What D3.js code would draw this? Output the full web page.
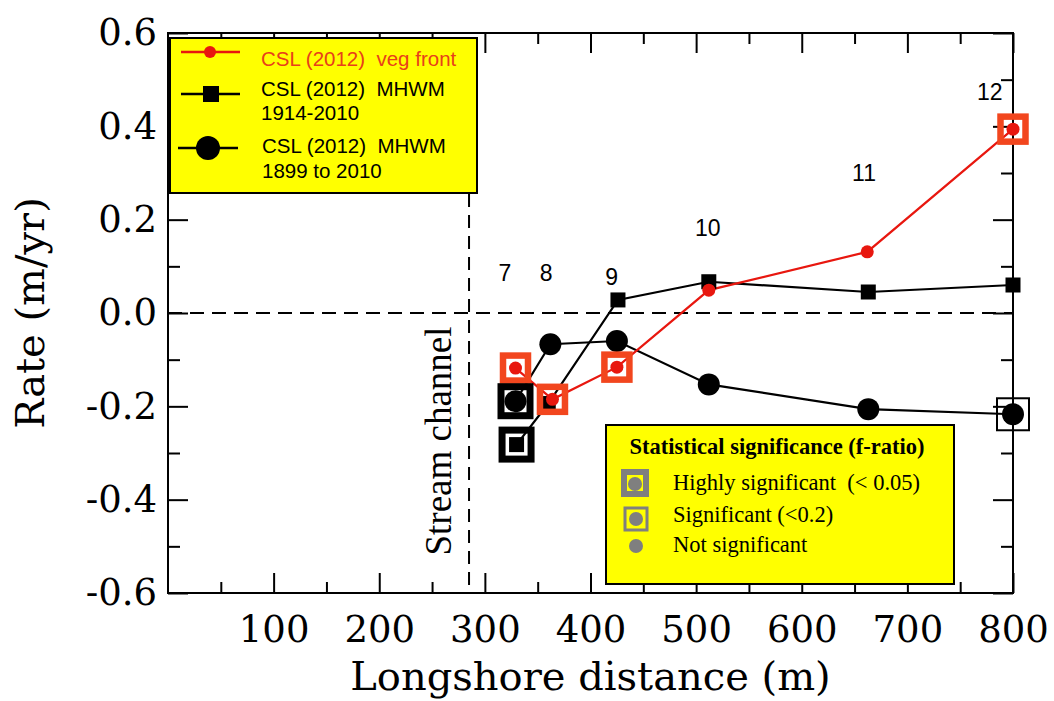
<!DOCTYPE html>
<html>
<head>
<meta charset="utf-8">
<script src="https://cdn.jsdelivr.net/npm/d3@7"></script>
<style>
  html, body { margin: 0; padding: 0; background: #fff; }
  svg { display: block; }
</style>
</head>
<body>
<svg id="chart" width="1054" height="701"></svg>
<script>
// ---------------- DATA ----------------
const vegX   = [329, 364, 425, 512, 662, 800];
const vegY   = [-0.118, -0.185, -0.116, 0.049, 0.131, 0.394];
const mhwmAX = [330, 360, 426, 512, 663, 800];           // 1914-2010 (squares)
const mhwmAY = [-0.282, -0.194, 0.028, 0.067, 0.045, 0.060];
const mhwmBX = [329, 362, 425, 512, 663, 800];           // 1899-2010 (circles)
const mhwmBY = [-0.189, -0.067, -0.060, -0.153, -0.206, -0.217];

// significance: series, point index, level ("high" | "sig")
const sigSeries = ["veg", "veg", "veg", "veg", "mhwmA", "mhwmB", "mhwmB"];
const sigIndex  = [0, 1, 2, 5, 0, 0, 5];
const sigLevel  = ["high", "high", "high", "high", "high", "high", "sig"];

// transect number labels (annotation positions in data units)
const transectIds = ["7", "8", "9", "10", "11", "12"];
const transectLX  = [319, 358, 420, 511, 659, 778];
const transectLY  = [0.086, 0.086, 0.077, 0.182, 0.30, 0.474];

const streamX = 285;

const xMajorTicks = [100, 200, 300, 400, 500, 600, 700, 800];
const xMinorTicks = [50, 150, 250, 350, 450, 550, 650, 750];
const yMajorTicks = [0.6, 0.4, 0.2, 0.0, -0.2, -0.4, -0.6];
const yTickLabels = ["0.6", "0.4", "0.2", "0.0", "-0.2", "-0.4", "-0.6"];
const yMinorTicks = [0.5, 0.3, 0.1, -0.1, -0.3, -0.5];

// ---------------- LAYOUT ----------------
const svg = d3.select("#chart");
const L = 168, R = 1013, T = 33, B = 593;
const x = d3.scaleLinear().domain([0, 800]).range([L, R]);
const y = d3.scaleLinear().domain([-0.6, 0.6]).range([B, T]);

const RED = "#e8170f";
const SIGRED = "#f2461e";
const serif = "'DejaVu Serif', serif";

// ---------------- AXES ----------------
function styleAxis(g) {
  g.select(".domain").remove();
  g.selectAll(".tick line").attr("stroke", "#000").attr("stroke-width", 2);
}
// bottom
svg.append("g").attr("transform", `translate(0,${B})`)
  .call(d3.axisBottom(x).tickValues(xMajorTicks).tickSizeInner(-20).tickSizeOuter(0).tickPadding(20).tickFormat(d3.format("d")))
  .call(styleAxis)
  .call(g => g.selectAll("text").attr("font-family", serif).attr("font-size", 37).attr("fill", "#000").attr("dy", "0.78em"));
svg.append("g").attr("transform", `translate(0,${B})`)
  .call(d3.axisBottom(x).tickValues(xMinorTicks).tickSizeInner(-11).tickSizeOuter(0).tickFormat(""))
  .call(styleAxis);
// top
svg.append("g").attr("transform", `translate(0,${T})`)
  .call(d3.axisTop(x).tickValues(xMajorTicks).tickSizeInner(-20).tickSizeOuter(0).tickFormat(""))
  .call(styleAxis);
svg.append("g").attr("transform", `translate(0,${T})`)
  .call(d3.axisTop(x).tickValues(xMinorTicks).tickSizeInner(-11).tickSizeOuter(0).tickFormat(""))
  .call(styleAxis);
// left
svg.append("g").attr("transform", `translate(${L},0)`)
  .call(d3.axisLeft(y).tickValues(yMajorTicks).tickSizeInner(-20).tickSizeOuter(0).tickPadding(11)
        .tickFormat((d, i) => yTickLabels[i]))
  .call(styleAxis)
  .call(g => g.selectAll("text").attr("font-family", serif).attr("font-size", 37).attr("fill", "#000"));
svg.append("g").attr("transform", `translate(${L},0)`)
  .call(d3.axisLeft(y).tickValues(yMinorTicks).tickSizeInner(-12).tickSizeOuter(0).tickFormat(""))
  .call(styleAxis);
// right
svg.append("g").attr("transform", `translate(${R},0)`)
  .call(d3.axisRight(y).tickValues(yMajorTicks).tickSizeInner(-20).tickSizeOuter(0).tickFormat(""))
  .call(styleAxis);
svg.append("g").attr("transform", `translate(${R},0)`)
  .call(d3.axisRight(y).tickValues(yMinorTicks).tickSizeInner(-12).tickSizeOuter(0).tickFormat(""))
  .call(styleAxis);

// frame
svg.append("rect").attr("x", L).attr("y", T).attr("width", R - L).attr("height", B - T)
  .attr("fill", "none").attr("stroke", "#000").attr("stroke-width", 2);

// axis titles
svg.append("text").attr("x", (L + R) / 2).attr("y", 690).attr("text-anchor", "middle")
  .attr("font-family", serif).attr("font-size", 40).attr("fill", "#000")
  .text("Longshore distance (m)");
svg.append("text").attr("transform", `translate(44,${(T + B) / 2}) rotate(-90)`)
  .attr("text-anchor", "middle")
  .attr("font-family", serif).attr("font-size", 40).attr("fill", "#000")
  .text("Rate (m/yr)");

// zero dashed line
svg.append("line").attr("x1", L).attr("x2", R).attr("y1", y(0)).attr("y2", y(0))
  .attr("stroke", "#000").attr("stroke-width", 2).attr("stroke-dasharray", "14,8");

// ---------------- LEGEND 1 (drawn before stream line so line starts below it) ----------------
const lg1 = svg.append("g");
lg1.append("rect").attr("x", 170).attr("y", 38).attr("width", 307).attr("height", 155)
  .attr("fill", "#ffff00").attr("stroke", "#000").attr("stroke-width", 2);

// stream channel vertical dashed line
svg.append("line").attr("x1", x(streamX)).attr("x2", x(streamX)).attr("y1", 194).attr("y2", B)
  .attr("stroke", "#000").attr("stroke-width", 2).attr("stroke-dasharray", "13,8");
svg.append("text").attr("transform", `translate(${x(streamX) - 18},441) rotate(-90)`)
  .attr("text-anchor", "middle").attr("font-family", "'Liberation Serif', serif")
  .attr("font-size", 37).attr("fill", "#000").text("Stream channel");

// legend 1 items
const lgFont = "'Liberation Sans', Arial, sans-serif";
const lgSize = 20.5;
lg1.append("line").attr("x1", 181).attr("x2", 240).attr("y1", 52).attr("y2", 52).attr("stroke", RED).attr("stroke-width", 2.5);
lg1.append("circle").attr("cx", 210).attr("cy", 52).attr("r", 6).attr("fill", RED);
lg1.append("text").attr("x", 261).attr("y", 66).attr("font-family", lgFont).attr("font-size", lgSize)
  .attr("fill", "#e8401a").attr("xml:space", "preserve").text("CSL (2012)  veg front");

lg1.append("line").attr("x1", 181).attr("x2", 240).attr("y1", 94).attr("y2", 94).attr("stroke", "#000").attr("stroke-width", 2.5);
lg1.append("rect").attr("x", 203).attr("y", 86).attr("width", 16).attr("height", 16).attr("fill", "#000");
lg1.append("text").attr("x", 261).attr("y", 96).attr("font-family", lgFont).attr("font-size", lgSize)
  .attr("fill", "#000").attr("xml:space", "preserve").text("CSL (2012)  MHWM");
lg1.append("text").attr("x", 261).attr("y", 120).attr("font-family", lgFont).attr("font-size", lgSize)
  .attr("fill", "#000").text("1914-2010");

lg1.append("line").attr("x1", 178).attr("x2", 238).attr("y1", 148).attr("y2", 148).attr("stroke", "#000").attr("stroke-width", 2.5);
lg1.append("circle").attr("cx", 208).attr("cy", 148).attr("r", 12).attr("fill", "#000");
lg1.append("text").attr("x", 262).attr("y", 153).attr("font-family", lgFont).attr("font-size", lgSize)
  .attr("fill", "#000").attr("xml:space", "preserve").text("CSL (2012)  MHWM");
lg1.append("text").attr("x", 262).attr("y", 178).attr("font-family", lgFont).attr("font-size", lgSize)
  .attr("fill", "#000").text("1899 to 2010");

// ---------------- DATA MARKS ----------------
const series = {
  veg:   vegX.map((d, i) => [d, vegY[i]]),
  mhwmA: mhwmAX.map((d, i) => [d, mhwmAY[i]]),
  mhwmB: mhwmBX.map((d, i) => [d, mhwmBY[i]])
};
const line = d3.line().x(d => x(d[0])).y(d => y(d[1]));

svg.append("path").datum(series.mhwmB).attr("d", line).attr("fill", "none").attr("stroke", "#000").attr("stroke-width", 2.2);
svg.append("path").datum(series.mhwmA).attr("d", line).attr("fill", "none").attr("stroke", "#000").attr("stroke-width", 2.2);
svg.append("path").datum(series.veg).attr("d", line).attr("fill", "none").attr("stroke", RED).attr("stroke-width", 2.2);

svg.selectAll(".sq").data(series.mhwmA).enter().append("rect")
  .attr("x", d => x(d[0]) - 7.5).attr("y", d => y(d[1]) - 7.5).attr("width", 15).attr("height", 15).attr("fill", "#000");
svg.selectAll(".ci").data(series.mhwmB).enter().append("circle")
  .attr("cx", d => x(d[0])).attr("cy", d => y(d[1])).attr("r", 11).attr("fill", "#000");
svg.selectAll(".rd").data(series.veg).enter().append("circle")
  .attr("cx", d => x(d[0])).attr("cy", d => y(d[1])).attr("r", 6.5).attr("fill", RED);

// significance boxes
sigSeries.forEach((s, k) => {
  const p = series[s][sigIndex[k]];
  const isRed = s === "veg";
  const high = sigLevel[k] === "high";
  const side = high ? (isRed ? 25 : 29) : 32;
  const sw = high ? (isRed ? 6.5 : 7) : 2;
  svg.append("rect")
    .attr("x", x(p[0]) - side / 2).attr("y", y(p[1]) - side / 2)
    .attr("width", side).attr("height", side)
    .attr("fill", "none").attr("stroke", isRed ? SIGRED : "#000").attr("stroke-width", sw);
});

// transect labels
svg.selectAll(".tl").data(transectIds).enter().append("text")
  .attr("x", (d, i) => x(transectLX[i])).attr("y", (d, i) => y(transectLY[i]))
  .attr("text-anchor", "middle").attr("dominant-baseline", "central")
  .attr("font-family", lgFont).attr("font-size", 23).attr("fill", "#000")
  .text(d => d);

// ---------------- LEGEND 2 ----------------
const lg2 = svg.append("g");
const GRAY = "#7f7f7f";
lg2.append("rect").attr("x", 606).attr("y", 425).attr("width", 348).attr("height", 159)
  .attr("fill", "#ffff00").attr("stroke", "#000").attr("stroke-width", 2);
lg2.append("text").attr("x", 777).attr("y", 454).attr("text-anchor", "middle")
  .attr("font-family", "'Liberation Serif', serif").attr("font-weight", "bold").attr("font-size", 22.5)
  .attr("fill", "#000").text("Statistical significance (f-ratio)");
// highly significant symbol
lg2.append("rect").attr("x", 624).attr("y", 472).attr("width", 22).attr("height", 22)
  .attr("fill", "none").attr("stroke", GRAY).attr("stroke-width", 6);
lg2.append("circle").attr("cx", 635).attr("cy", 484).attr("r", 7).attr("fill", GRAY);
// significant symbol
lg2.append("rect").attr("x", 625).attr("y", 508).attr("width", 22).attr("height", 22)
  .attr("fill", "none").attr("stroke", GRAY).attr("stroke-width", 3);
lg2.append("circle").attr("cx", 636).attr("cy", 519).attr("r", 7).attr("fill", GRAY);
// not significant
lg2.append("circle").attr("cx", 636).attr("cy", 546).attr("r", 7).attr("fill", GRAY);

const lg2Font = "'Liberation Serif', serif";
const lg2Size = 22.5;
lg2.append("text").attr("x", 673).attr("y", 490).attr("font-family", lg2Font).attr("font-size", lg2Size)
  .attr("fill", "#000").attr("xml:space", "preserve").text("Highly significant  (< 0.05)");
lg2.append("text").attr("x", 673).attr("y", 522).attr("font-family", lg2Font).attr("font-size", lg2Size)
  .attr("fill", "#000").text("Significant (<0.2)");
lg2.append("text").attr("x", 673).attr("y", 552).attr("font-family", lg2Font).attr("font-size", lg2Size)
  .attr("fill", "#000").text("Not significant");
</script>
</body>
</html>
